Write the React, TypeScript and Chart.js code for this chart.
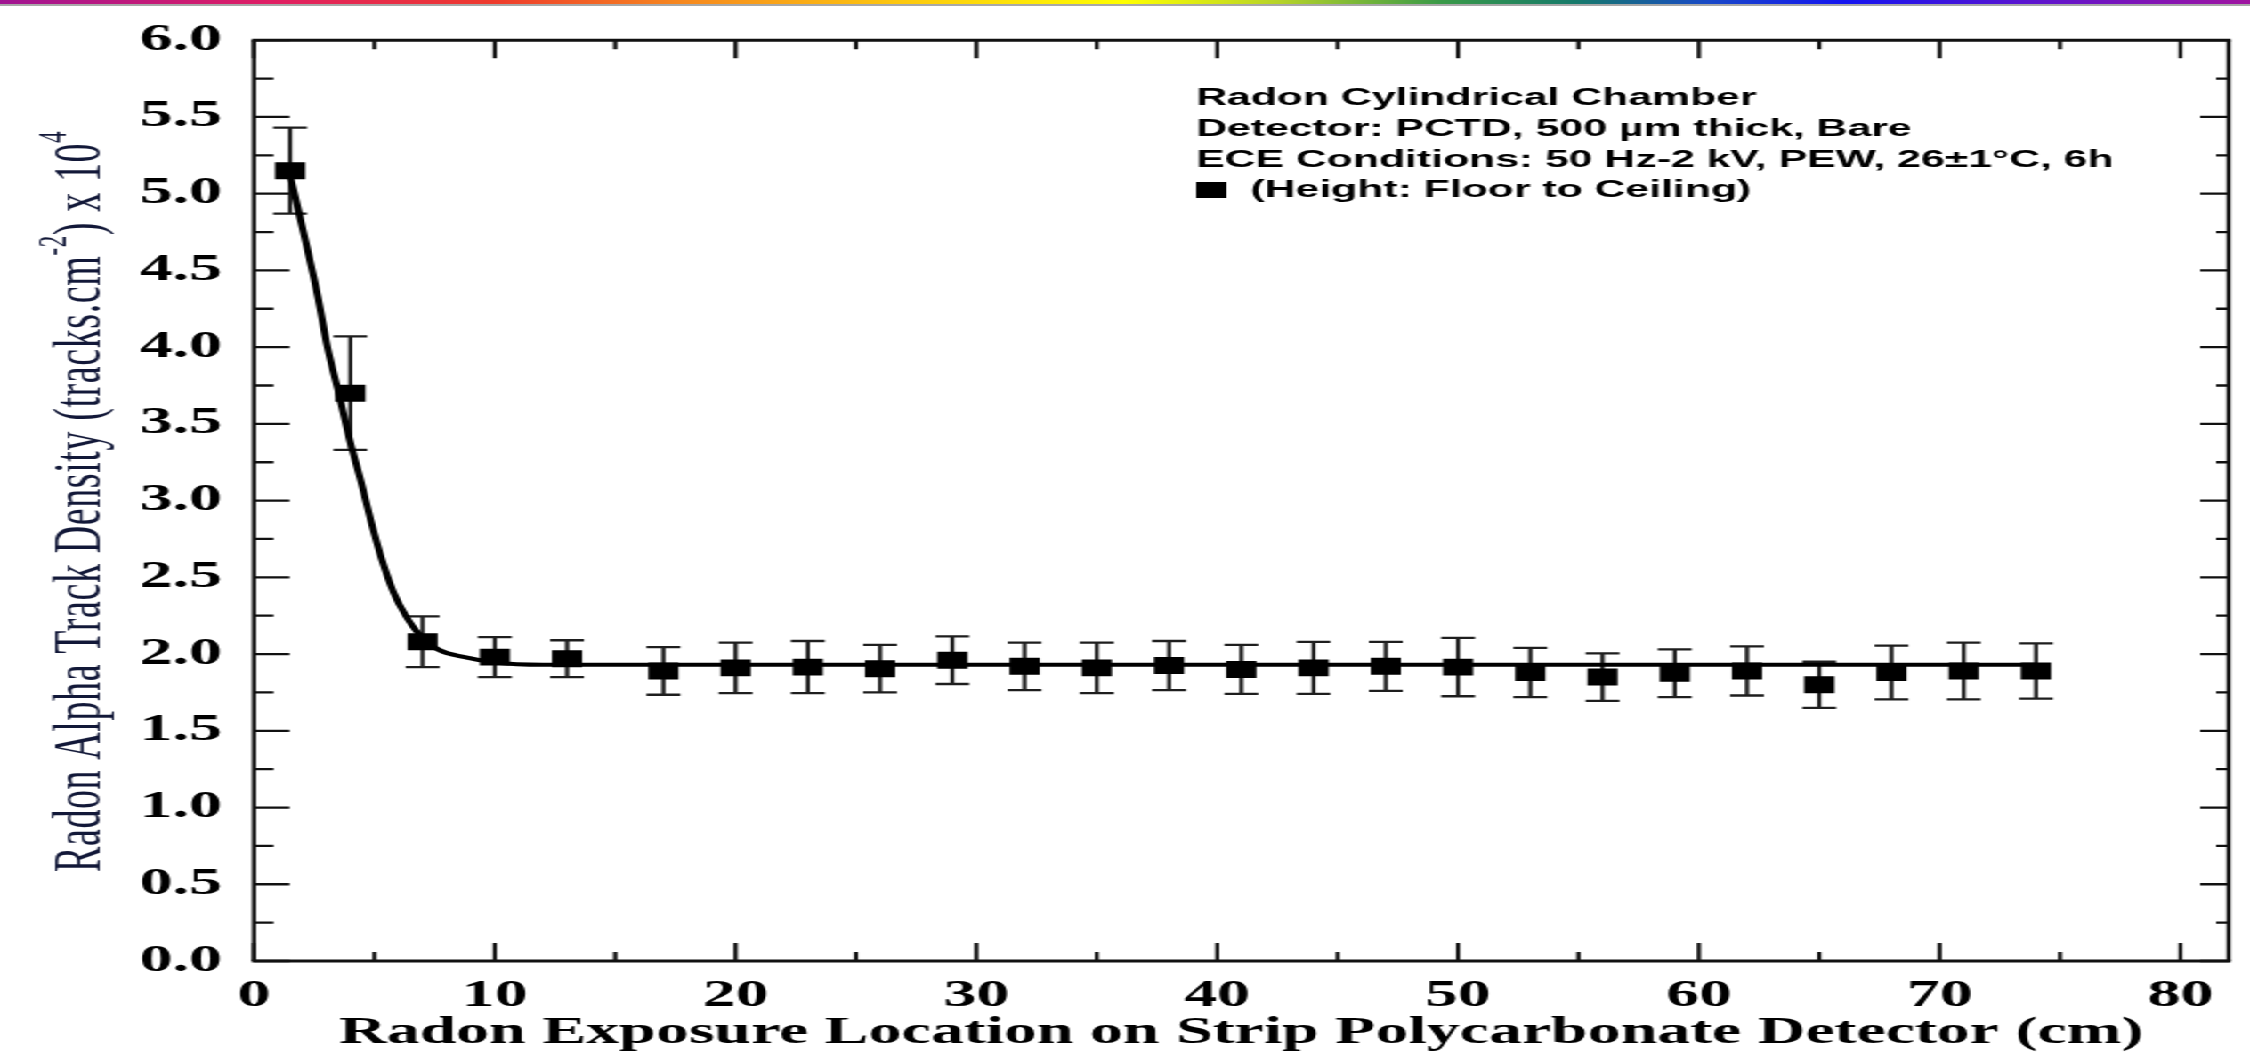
import { useEffect, useRef } from 'react';
import { Chart, registerables } from 'chart.js';

Chart.register(...registerables);

// Measurement positions along the strip (cm) and track densities (x 10^4 tracks/cm^2)
const positions = [1.5, 4, 7, 10, 13, 17, 20, 23, 26, 29, 32, 35, 38, 41, 44, 47, 50, 53, 56, 59, 62, 65, 68, 71, 74];
const densities = [5.15, 3.7, 2.08, 1.98, 1.97, 1.89, 1.91, 1.915, 1.905, 1.96, 1.92, 1.91, 1.925, 1.9, 1.91, 1.92, 1.915, 1.88, 1.85, 1.875, 1.89, 1.8, 1.88, 1.89, 1.89];
const errors = [0.28, 0.37, 0.165, 0.13, 0.12, 0.155, 0.165, 0.17, 0.155, 0.155, 0.155, 0.165, 0.16, 0.16, 0.17, 0.16, 0.19, 0.16, 0.155, 0.155, 0.16, 0.15, 0.175, 0.185, 0.18];

// Fitted decay curve
const fitPositions = [1.5, 2.2, 2.65, 3.05, 3.55, 3.95, 4.45, 4.85, 5.3, 5.8, 6.3, 6.85, 7.65, 8.75, 10, 12, 74];
const fitDensities = [5.12, 4.65, 4.33, 4.0, 3.68, 3.41, 3.12, 2.87, 2.62, 2.4, 2.25, 2.13, 2.03, 1.98, 1.945, 1.93, 1.93];

// Axis ticks
const xTickValues = [0, 10, 20, 30, 40, 50, 60, 70, 80];
const xMinorTicks = [5, 15, 25, 35, 45, 55, 65, 75];
const yTickValues = [0, 0.5, 1, 1.5, 2, 2.5, 3, 3.5, 4, 4.5, 5, 5.5, 6];
const yMinorTicks = [0.25, 0.75, 1.25, 1.75, 2.25, 2.75, 3.25, 3.75, 4.25, 4.75, 5.25, 5.75];

const xTitle = 'Radon Exposure Location on Strip Polycarbonate Detector (cm)';
const yTitleParts = [
  { text: 'Radon Alpha Track Density (tracks.cm', sup: false },
  { text: '-2', sup: true },
  { text: ') x 10', sup: false },
  { text: '4', sup: true },
];
const infoLines = [
  'Radon Cylindrical Chamber',
  'Detector: PCTD, 500 µm thick, Bare',
  'ECE Conditions: 50 Hz-2 kV, PEW, 26±1°C, 6h',
];
const seriesLabel = '(Height: Floor to Ceiling)';

const CANVAS_W = 1264;
const CANVAS_H = 1052;
const STRETCH = 2250 / CANVAS_W;
const SERIF = "'Liberation Serif', 'Times New Roman', serif";
const SANS = "'Liberation Sans', Arial, sans-serif";

const decorPlugin = {
  id: 'decor',
  beforeDraw(chart: any) {
    const { ctx, width } = chart;
    const g = ctx.createLinearGradient(0, 0, width, 0);
    g.addColorStop(0, '#a01492');
    g.addColorStop(0.12, '#e01e64');
    g.addColorStop(0.22, '#ef3b2c');
    g.addColorStop(0.3, '#f6861f');
    g.addColorStop(0.4, '#fdc80e');
    g.addColorStop(0.5, '#ffff00');
    g.addColorStop(0.57, '#b4d22a');
    g.addColorStop(0.64, '#3a9a48');
    g.addColorStop(0.7, '#167a6a');
    g.addColorStop(0.76, '#1848c8');
    g.addColorStop(0.82, '#1414f0');
    g.addColorStop(0.9, '#5a14d0');
    g.addColorStop(1, '#a014a0');
    ctx.save();
    ctx.fillStyle = g;
    ctx.fillRect(0, 0, width, 4);
    ctx.fillStyle = '#a8a8a8';
    ctx.fillRect(0, 4, width, 2);
    ctx.restore();
  },
  beforeDatasetsDraw(chart: any) {
    const { ctx } = chart;
    const xs = chart.scales.x;
    const ys = chart.scales.y;
    ctx.save();
    ctx.strokeStyle = '#1e1e1e';
    ctx.lineWidth = 2.3;
    const cap = 9.5;
    positions.forEach((p, i) => {
      const px = xs.getPixelForValue(p);
      const top = ys.getPixelForValue(densities[i] + errors[i]);
      const bot = ys.getPixelForValue(densities[i] - errors[i]);
      ctx.beginPath();
      ctx.moveTo(px, top);
      ctx.lineTo(px, bot);
      ctx.moveTo(px - cap, top);
      ctx.lineTo(px + cap, top);
      ctx.moveTo(px - cap, bot);
      ctx.lineTo(px + cap, bot);
      ctx.stroke();
    });
    ctx.restore();
  },
  afterDatasetsDraw(chart: any) {
    const { ctx, chartArea } = chart;
    const { left, right, top, bottom } = chartArea;
    const xs = chart.scales.x;
    const ys = chart.scales.y;
    ctx.save();
    ctx.strokeStyle = '#111';
    // frame
    ctx.lineWidth = 3;
    ctx.beginPath();
    ctx.moveTo(left - 1.2, top);
    ctx.lineTo(right + 1.2, top);
    ctx.moveTo(left - 1.2, bottom);
    ctx.lineTo(right + 1.2, bottom);
    ctx.stroke();
    ctx.lineWidth = 2.4;
    ctx.beginPath();
    ctx.moveTo(left, top);
    ctx.lineTo(left, bottom);
    ctx.moveTo(right, top);
    ctx.lineTo(right, bottom);
    ctx.stroke();
    // inward ticks
    ctx.lineWidth = 2.3;
    ctx.beginPath();
    const xTick = (v: number, len: number) => {
      const px = xs.getPixelForValue(v);
      ctx.moveTo(px, bottom);
      ctx.lineTo(px, bottom - len);
      ctx.moveTo(px, top);
      ctx.lineTo(px, top + len);
    };
    xTickValues.forEach((v) => xTick(v, 18));
    xMinorTicks.forEach((v) => xTick(v, 9));
    const yTick = (v: number, lenL: number, lenR: number) => {
      const py = ys.getPixelForValue(v);
      ctx.moveTo(left, py);
      ctx.lineTo(left + lenL, py);
      ctx.moveTo(right, py);
      ctx.lineTo(right - lenR, py);
    };
    yTickValues.forEach((v) => yTick(v, 20, 16));
    yMinorTicks.forEach((v) => yTick(v, 11, 7));
    ctx.stroke();
    ctx.restore();

    // y-axis title with superscripts
    ctx.save();
    ctx.translate(56, 872);
    ctx.rotate(-Math.PI / 2);
    ctx.fillStyle = '#121838';
    ctx.textBaseline = 'alphabetic';
    ctx.textAlign = 'left';
    (ctx as any).letterSpacing = '0.6px';
    let cursor = 0;
    yTitleParts.forEach((part) => {
      ctx.font = part.sup ? `23px ${SERIF}` : `38px ${SERIF}`;
      ctx.fillText(part.text, cursor, part.sup ? -19 : 0);
      cursor += ctx.measureText(part.text).width;
    });
    ctx.restore();

    // info block and series key
    ctx.save();
    ctx.fillStyle = '#000';
    ctx.font = `bold 24px ${SANS}`;
    ctx.textBaseline = 'alphabetic';
    ctx.textAlign = 'left';
    const baselines = [105, 136, 167];
    infoLines.forEach((t, i) => ctx.fillText(t, 672, baselines[i]));
    ctx.fillStyle = chart.data.datasets[0].backgroundColor;
    ctx.fillRect(672, 182, 17, 16);
    ctx.fillStyle = '#000';
    ctx.fillText(seriesLabel, 702.5, 197);
    ctx.restore();
  },
};

export default function App() {
  const canvasRef = useRef<HTMLCanvasElement | null>(null);

  useEffect(() => {
    const canvas = canvasRef.current;
    if (!canvas) return;
    const chart = new Chart(canvas, {
      type: 'scatter',
      data: {
        datasets: [
          {
            label: seriesLabel,
            data: positions.map((p, i) => ({ x: p, y: densities[i] })),
            pointStyle: 'rect',
            pointRadius: 12,
            pointHoverRadius: 12,
            backgroundColor: '#000',
            borderColor: '#000',
            borderWidth: 0,
            showLine: false,
            order: 0,
          },
          {
            label: 'fit',
            data: fitPositions.map((p, i) => ({ x: p, y: fitDensities[i] })),
            showLine: true,
            pointRadius: 0,
            borderColor: '#000',
            borderWidth: 4,
            cubicInterpolationMode: 'monotone',
            fill: false,
            order: 1,
          },
        ],
      },
      options: {
        responsive: false,
        animation: false,
        devicePixelRatio: 1,
        layout: { padding: { top: 34, right: 2.8, left: 0, bottom: 0 } },
        plugins: {
          legend: { display: false },
          tooltip: { enabled: false },
          title: { display: false },
        },
        scales: {
          x: {
            type: 'linear',
            min: 0,
            max: 82,
            position: 'bottom',
            grid: { display: false, drawTicks: false },
            border: { display: false },
            afterBuildTicks: (s: any) => {
              s.ticks = xTickValues.map((v) => ({ value: v }));
            },
            afterFit: (s: any) => {
              s.height = CANVAS_H - 961;
            },
            ticks: {
              padding: 13,
              color: '#000',
              autoSkip: false,
              maxRotation: 0,
              font: { family: SERIF, size: 37, weight: 'bold' },
              callback: (v: any) => String(v),
            },
            title: {
              display: true,
              text: xTitle,
              color: '#000',
              font: { family: SERIF, size: 37, weight: 'bold', lineHeight: 1 },
              padding: { top: 3, bottom: 0 },
            },
          },
          y: {
            type: 'linear',
            min: 0,
            max: 6,
            grid: { display: false, drawTicks: false },
            border: { display: false },
            afterBuildTicks: (s: any) => {
              s.ticks = yTickValues.map((v) => ({ value: v }));
            },
            afterFit: (s: any) => {
              s.width = 142.7;
            },
            ticks: {
              padding: 18,
              color: '#000',
              autoSkip: false,
              font: { family: SERIF, size: 37, weight: 'bold' },
              callback: (v: any) => Number(v).toFixed(1),
            },
          },
        },
      } as any,
      plugins: [decorPlugin],
    });
    return () => chart.destroy();
  }, []);

  return (
    <div
      style={{
        position: 'absolute',
        left: 0,
        top: 0,
        width: CANVAS_W,
        height: CANVAS_H,
        transform: `scaleX(${STRETCH})`,
        transformOrigin: '0 0',
        background: '#fff',
      }}
    >
      <canvas ref={canvasRef} width={CANVAS_W} height={CANVAS_H} />
    </div>
  );
}
